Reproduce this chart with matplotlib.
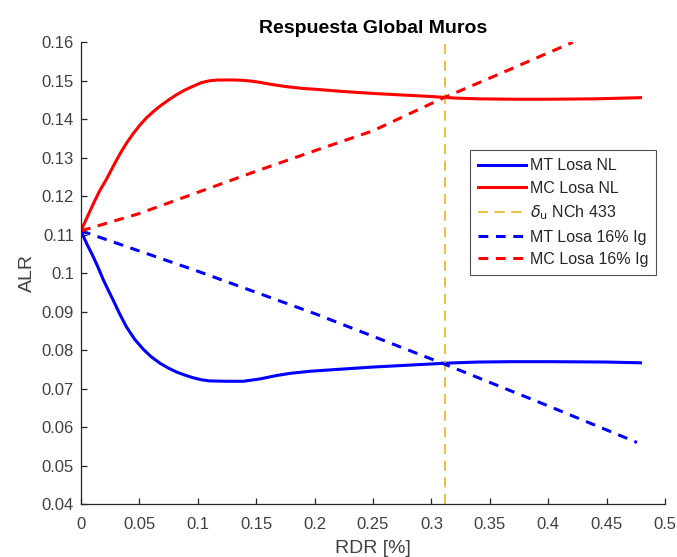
import matplotlib
matplotlib.use("Agg")
import matplotlib.pyplot as plt

plt.rcParams['font.family'] = ['Liberation Sans', 'DejaVu Sans']

# Data
x_mc_nl = [0, 0.006, 0.011, 0.016, 0.022, 0.028, 0.0334, 0.039, 0.0448, 0.0505, 0.0562, 0.062, 0.0676,
           0.075, 0.0819, 0.089, 0.0962, 0.103, 0.110, 0.1175, 0.125, 0.132, 0.139, 0.146, 0.153,
           0.162, 0.175, 0.19, 0.2, 0.225, 0.25, 0.275, 0.3, 0.32, 0.34, 0.37, 0.4, 0.44, 0.479]
y_mc_nl = [0.111, 0.1150, 0.1183, 0.1214, 0.1245, 0.1280, 0.1310, 0.1338, 0.1363, 0.1385, 0.1404, 0.1420, 0.1434,
           0.1450, 0.1464, 0.1476, 0.1486, 0.1495, 0.1500, 0.1502, 0.1502, 0.1502, 0.1501, 0.1499, 0.1496,
           0.1491, 0.1485, 0.1480, 0.1478, 0.1472, 0.1467, 0.1463, 0.1459, 0.1455, 0.1453, 0.1452, 0.1452, 0.1453, 0.1456]

x_mt_nl = [0, 0.005, 0.01, 0.0145, 0.0191, 0.0235, 0.0277, 0.033, 0.039, 0.046, 0.0534, 0.060, 0.0676,
           0.075, 0.0819, 0.089, 0.0962, 0.103, 0.110, 0.125, 0.139, 0.153, 0.1675, 0.18, 0.196,
           0.225, 0.25, 0.275, 0.3, 0.32, 0.34, 0.37, 0.4, 0.45, 0.479]
y_mt_nl = [0.111, 0.1076, 0.1046, 0.1016, 0.0983, 0.0955, 0.0929, 0.0895, 0.0860, 0.0828, 0.0802, 0.0783, 0.0766,
           0.0753, 0.0743, 0.0735, 0.0728, 0.0723, 0.0720, 0.0719, 0.0719, 0.0725, 0.0734, 0.0740, 0.0745,
           0.0751, 0.0756, 0.0760, 0.0764, 0.0767, 0.0769, 0.0770, 0.0770, 0.0769, 0.0767]

x_mt_16 = [0, 0.1, 0.2, 0.31, 0.4, 0.476]
y_mt_16 = [0.111, 0.1005, 0.0895, 0.0765, 0.0655, 0.0560]

x_mc_16 = [0, 0.05, 0.1, 0.15, 0.2, 0.25, 0.31, 0.36, 0.421]
y_mc_16 = [0.111, 0.1155, 0.121, 0.1265, 0.1318, 0.137, 0.1455, 0.152, 0.160]

delta_u = 0.312

xticks = [0, 0.05, 0.1, 0.15, 0.2, 0.25, 0.3, 0.35, 0.4, 0.45, 0.5]
xticklabels = ['0', '0.05', '0.1', '0.15', '0.2', '0.25', '0.3', '0.35', '0.4', '0.45', '0.5']
yticks = [0.04, 0.05, 0.06, 0.07, 0.08, 0.09, 0.1, 0.11, 0.12, 0.13, 0.14, 0.15, 0.16]
yticklabels = ['0.04', '0.05', '0.06', '0.07', '0.08', '0.09', '0.1', '0.11', '0.12', '0.13', '0.14', '0.15', '0.16']

fig = plt.figure(figsize=(6.77, 5.57), dpi=100)
ax = fig.add_axes([0.1196, 0.0951, 0.8627, 0.8290])

ax.plot(x_mt_nl, y_mt_nl, color='#0000FF', lw=2.2, label='MT Losa NL')
ax.plot(x_mc_nl, y_mc_nl, color='#FF0000', lw=2.2, label='MC Losa NL')
ax.axvline(delta_u, color='#EDB120', lw=1.2, ls=(0, (6, 4)), label=r'$\delta_{\mathrm{u}}$ NCh 433')
ax.plot(x_mt_16, y_mt_16, color='#0000FF', lw=2.2, ls=(0, (3.2, 2.5)), label='MT Losa 16% Ig')
ax.plot(x_mc_16, y_mc_16, color='#FF0000', lw=2.2, ls=(0, (3.2, 2.5)), label='MC Losa 16% Ig')

ax.set_xlim(0, 0.5)
ax.set_ylim(0.04, 0.16)
ax.set_xticks(xticks)
ax.set_xticklabels(xticklabels)
ax.set_yticks(yticks)
ax.set_yticklabels(yticklabels)

for s in ['top', 'right']:
    ax.spines[s].set_visible(False)
for s in ['left', 'bottom']:
    ax.spines[s].set_color('#262626')
    ax.spines[s].set_linewidth(0.9)
ax.tick_params(direction='in', length=4.5, width=0.9, colors='#262626', labelsize=12)
ax.tick_params(axis='x', pad=9)
ax.tick_params(axis='y', pad=5)
for lbl in ax.get_xticklabels() + ax.get_yticklabels():
    lbl.set_color('#404040')

ax.set_title('Respuesta Global Muros', fontsize=14, fontweight='bold', pad=7)
ax.set_xlabel('RDR [%]', fontsize=14, color='#404040', labelpad=6)
ax.set_ylabel('ALR', fontsize=14, color='#404040', labelpad=4)

leg = ax.legend(loc='upper left', bbox_to_anchor=(0.666, 0.766), fontsize=11.5, frameon=True,
                fancybox=False, edgecolor='#262626', handlelength=3.0, handletextpad=0.25,
                borderpad=0.5, labelspacing=0.47, borderaxespad=0)
leg.get_frame().set_linewidth(0.8)
for t in leg.get_texts():
    t.set_color('#262626')

fig.savefig('out.png', dpi=100)
